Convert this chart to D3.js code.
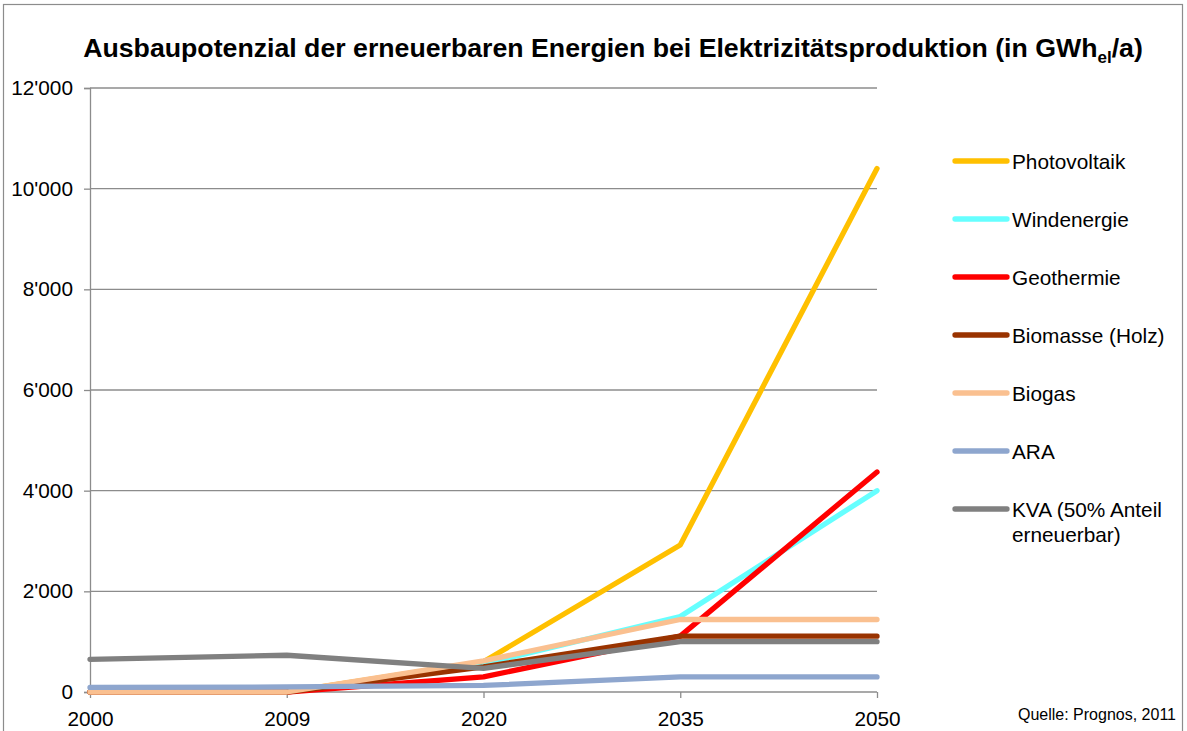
<!DOCTYPE html>
<html><head><meta charset="utf-8">
<script src="https://cdn.jsdelivr.net/npm/d3@7"></script>
<style>body{margin:0;background:#fff;}svg{font-family:"Liberation Sans",Arial,sans-serif;}</style>
</head><body>
<svg id="c" width="1187" height="731"></svg>
<script>
const years = ["2000","2009","2020","2035","2050"];
const seriesNames = ["Photovoltaik","Windenergie","Geothermie","Biomasse (Holz)","Biogas","ARA","KVA (50% Anteil erneuerbar)"];
const photovoltaik = [0, 0, 600, 2920, 10400];
const windenergie = [0, 0, 560, 1500, 4000];
const geothermie = [0, 0, 300, 1110, 4370];
const biomasse = [0, 0, 500, 1110, 1110];
const biogas = [0, 0, 620, 1440, 1440];
const ara = [90, 100, 130, 300, 300];
const kva = [650, 730, 470, 1000, 1000];
const yTicks = [0, 2000, 4000, 6000, 8000, 10000, 12000];
const colors = ["#FFC000","#66FFFF","#FF0000","#993300","#FAC090","#8EA6CE","#808080"];

const data = [photovoltaik, windenergie, geothermie, biomasse, biogas, ara, kva];
const svg = d3.select("#c");
const L = 90, R = 877, T = 88, B = 692;
const FS = 20.8;

svg.append("rect").attr("x",3.5).attr("y",4.5).attr("width",1179).attr("height",740)
  .attr("fill","none").attr("stroke","#8c8c8c").attr("stroke-width",1.2);

const title = svg.append("text").attr("x",613).attr("y",57).attr("text-anchor","middle")
  .attr("font-size",26.7).attr("font-weight","bold").attr("fill","#000");
title.append("tspan").text("Ausbaupotenzial der erneuerbaren Energien bei Elektrizitätsproduktion (in GWh");
title.append("tspan").attr("font-size",17).attr("dy",6).text("el");
title.append("tspan").attr("dy",-6).text("/a)");

const x = d3.scalePoint().domain(years).range([L, R]);
const y = d3.scaleLinear().domain([0, 12000]).range([B, T]);
const fmt = v => d3.format(",")(v).replace(/,/g, "'");

// gridlines
svg.append("g").selectAll("line").data(yTicks.filter(d=>d>0)).join("line")
  .attr("x1",L).attr("x2",R).attr("y1",d=>y(d)).attr("y2",d=>y(d))
  .attr("stroke","#8c8c8c").attr("stroke-width",1.3);

const yAxis = svg.append("g").attr("transform",`translate(${L},0)`)
  .call(d3.axisLeft(y).tickValues(yTicks).tickFormat(fmt).tickSize(6).tickPadding(11));
yAxis.select(".domain").attr("stroke","#8c8c8c").attr("stroke-width",1.3);
yAxis.selectAll(".tick line").attr("stroke","#8c8c8c").attr("stroke-width",1.3);
yAxis.selectAll("text").attr("font-size",FS).attr("fill","#000").attr("font-family","Liberation Sans, Arial, sans-serif");

const xAxis = svg.append("g").attr("transform",`translate(0,${B})`)
  .call(d3.axisBottom(x).tickSize(6).tickPadding(13));
xAxis.select(".domain").attr("stroke","#8c8c8c").attr("stroke-width",1.3).attr("d",`M${L},0H${R}`);
xAxis.selectAll(".tick line").attr("stroke","#8c8c8c").attr("stroke-width",1.3);
xAxis.selectAll("text").attr("font-size",FS).attr("fill","#000").attr("font-family","Liberation Sans, Arial, sans-serif");

const line = d3.line().x((d,i)=>x(years[i])).y(d=>y(d));
svg.append("g").selectAll("path").data(data).join("path")
  .attr("d",line).attr("fill","none").attr("stroke",(d,i)=>colors[i])
  .attr("stroke-width",5.3).attr("stroke-linecap","round").attr("stroke-linejoin","round");

// legend
const lg = svg.append("g");
const legY = [161, 219, 277, 335, 393, 451, 509];
seriesNames.forEach((n,i)=>{
  lg.append("line").attr("x1",955).attr("x2",1007).attr("y1",legY[i]).attr("y2",legY[i])
    .attr("stroke",colors[i]).attr("stroke-width",5.3).attr("stroke-linecap","round");
  const t = lg.append("text").attr("x",1012).attr("y",legY[i]+8).attr("font-size",FS).attr("fill","#000");
  if (i === 6) {
    t.append("tspan").text("KVA (50% Anteil");
    t.append("tspan").attr("x",1012).attr("dy",25).text("erneuerbar)");
  } else t.text(n);
});

svg.append("text").attr("x",1176).attr("y",720).attr("text-anchor","end").attr("font-size",16)
  .attr("fill","#000").text("Quelle: Prognos, 2011");
</script>
</body></html>
